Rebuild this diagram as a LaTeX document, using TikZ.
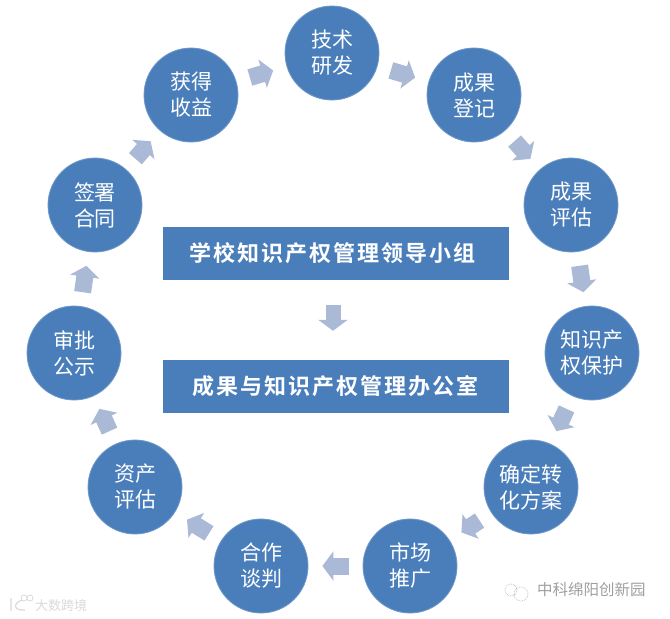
\documentclass[tikz,border=0pt]{standalone}
\usepackage{fontspec}
\setmainfont{Noto Sans CJK SC}[BoldFont={Noto Sans CJK SC Bold}]
\usetikzlibrary{arrows.meta}
\definecolor{bluefill}{HTML}{4A7EBB}
\definecolor{arrowfill}{HTML}{AAB9D6}
\tikzset{
  x=1pt,y=-1pt,
  round/.style={circle,fill=bluefill,draw=bluefill!80!white,line width=.8pt,minimum size=94pt,inner sep=0pt,text=white,align=center,font=\fontsize{21}{26}\selectfont},
  banner/.style={fill=bluefill,minimum width=346pt,minimum height=53pt,inner sep=0pt,text=white,font=\fontsize{22}{26}\selectfont\bfseries},
  flow/.style={draw=arrowfill,line width=17pt,shorten <=14pt,shorten >=14pt,-{Triangle[length=11pt,width=29pt,fill=arrowfill]}},
  flowdown/.style={draw=arrowfill,line width=15pt,shorten <=25pt,shorten >=29pt,-{Triangle[length=11pt,width=29pt,fill=arrowfill]}},
  wmdark/.style={text=gray!75,font=\fontsize{15.5}{16}\selectfont},
  wmlight/.style={text=gray!30,font=\fontsize{13}{13}\selectfont},
  wmicon/.style={draw=gray!55,line width=.7pt,densely dotted},
  wmiconl/.style={draw=gray!30,line width=1.2pt},
}
\begin{document}
\begin{tikzpicture}
\useasboundingbox (0,0) rectangle (670,619);
\node[round] (a) at (332,53) {技术\\研发};
\node[round] (b) at (474,95) {成果\\登记};
\node[round] (c) at (571,205) {成果\\评估};
\node[round] (d) at (592,353) {知识产\\权保护};
\node[round] (e) at (531,487) {确定转\\化方案};
\node[round] (f) at (410,566) {市场\\推广};
\node[round] (g) at (261,566) {合作\\谈判};
\node[round] (h) at (135,487) {资产\\评估};
\node[round] (i) at (74,353) {审批\\公示};
\node[round] (j) at (95,205) {签署\\合同};
\node[round] (k) at (191,95) {获得\\收益};
\foreach \p/\q in {k/a,a/b,b/c,c/d,d/e,e/f,f/g,g/h,h/i,i/j,j/k}
  \draw[flow] (\p) -- (\q);
\node[banner] (top) at (336,253.5) {\hspace*{-7pt}\addfontfeature{LetterSpace=9}学校知识产权管理领导小组};
\node[banner] (bot) at (336,386.5) {\hspace*{-1pt}\addfontfeature{LetterSpace=9.5}成果与知识产权管理办公室};
\draw[flowdown] ([xshift=-3pt]top.south) -- ([xshift=-3pt]bot.north);
\node[wmdark,anchor=west,inner sep=0pt] (wmr) at (537,590) {中科绵阳创新园};
\node[wmlight,anchor=west,inner sep=0pt] (wml) at (35,606) {大数跨境};
\draw[wmicon] (511,590) circle (6pt) (521,594) circle (7pt);
\draw[wmiconl] (11,598) -- (11,611) (22,600) .. controls (13,603) and (13,611) .. (25,610);
\draw[wmiconl,line width=.8pt] (24,598) circle (3pt) (30,598) circle (3pt);
\end{tikzpicture}
\end{document}
